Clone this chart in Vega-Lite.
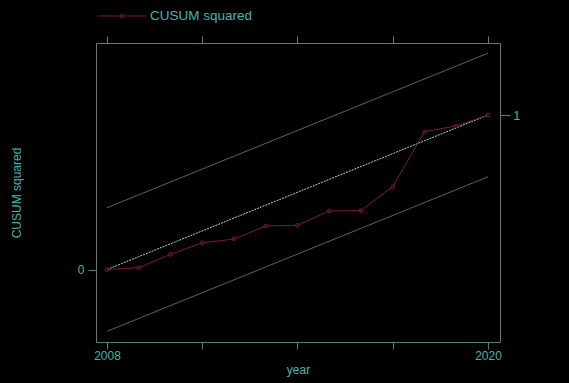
{
  "$schema": "https://vega.github.io/schema/vega-lite/v6.json",
  "width": 404,
  "height": 299,
  "autosize": {"type": "none"},
  "padding": {"left": 96, "top": 43, "right": 69, "bottom": 41},
  "background": "#000000",
  "config": {
    "view": {"stroke": "#587f7c", "strokeWidth": 1},
    "font": "Liberation Sans",
    "axis": {
      "grid": false,
      "domain": false,
      "tickColor": "#587f7c",
      "labelColor": "#3fb8ad",
      "titleColor": "#3fb8ad",
      "labelFont": "Liberation Sans",
      "titleFont": "Liberation Sans",
      "labelFontSize": 12,
      "titleFontSize": 12,
      "titleFontWeight": "normal"
    }
  },
  "datasets": {
    "bounds": [
      {"year": 2008, "value": 0.4, "series": "upper"},
      {"year": 2020, "value": 1.4, "series": "upper"},
      {"year": 2008, "value": -0.4, "series": "lower"},
      {"year": 2020, "value": 0.6, "series": "lower"}
    ],
    "expected": [
      {"year": 2008, "value": 0},
      {"year": 2020, "value": 1}
    ],
    "cusum": [
      {"year": 2008, "value": 0.0, "series": "CUSUM squared"},
      {"year": 2009, "value": 0.012, "series": "CUSUM squared"},
      {"year": 2010, "value": 0.098, "series": "CUSUM squared"},
      {"year": 2011, "value": 0.173, "series": "CUSUM squared"},
      {"year": 2012, "value": 0.197, "series": "CUSUM squared"},
      {"year": 2013, "value": 0.282, "series": "CUSUM squared"},
      {"year": 2014, "value": 0.286, "series": "CUSUM squared"},
      {"year": 2015, "value": 0.38, "series": "CUSUM squared"},
      {"year": 2016, "value": 0.381, "series": "CUSUM squared"},
      {"year": 2017, "value": 0.536, "series": "CUSUM squared"},
      {"year": 2018, "value": 0.892, "series": "CUSUM squared"},
      {"year": 2019, "value": 0.929, "series": "CUSUM squared"},
      {"year": 2020, "value": 1.0, "series": "CUSUM squared"}
    ]
  },
  "resolve": {"axis": {"x": "independent", "y": "independent"}},
  "layer": [
    {
      "data": {"name": "bounds"},
      "mark": {"type": "line", "color": "#4d6b60", "strokeWidth": 1},
      "encoding": {
        "x": {
          "field": "year", "type": "quantitative",
          "scale": {"domain": [2007.654, 2020.378], "nice": false, "zero": false},
          "axis": {
            "orient": "bottom",
            "values": [2008, 2011, 2014, 2017, 2020],
            "format": "d",
            "labelExpr": "datum.value == 2008 || datum.value == 2020 ? datum.label : ''",
            "tickSize": 7,
            "labelPadding": 1,
            "title": "year",
            "titlePadding": 3
          }
        },
        "y": {
          "field": "value", "type": "quantitative",
          "scale": {"domain": [-0.469, 1.466], "nice": false, "zero": false},
          "axis": {
            "orient": "left",
            "values": [0],
            "tickSize": 8,
            "labelPadding": 4,
            "title": "CUSUM squared",
            "titlePadding": 54
          }
        },
        "detail": {"field": "series"}
      }
    },
    {
      "data": {"name": "expected"},
      "mark": {"type": "line", "color": "#a6dcd8", "strokeWidth": 1, "strokeDash": [2, 1]},
      "encoding": {
        "x": {
          "field": "year", "type": "quantitative",
          "axis": {
            "orient": "top",
            "values": [2008, 2011, 2014, 2017, 2020],
            "labels": false,
            "tickSize": 7,
            "title": null
          }
        },
        "y": {
          "field": "value", "type": "quantitative",
          "axis": {
            "orient": "right",
            "values": [1],
            "tickSize": 10,
            "labelPadding": 3,
            "title": null
          }
        }
      }
    },
    {
      "data": {"name": "cusum"},
      "mark": {"type": "line", "strokeWidth": 1, "point": {"filled": false, "size": 14, "strokeWidth": 1}},
      "encoding": {
        "x": {"field": "year", "type": "quantitative", "axis": null},
        "y": {"field": "value", "type": "quantitative", "axis": null},
        "color": {
          "field": "series", "type": "nominal",
          "scale": {"domain": ["CUSUM squared"], "range": ["#7a1e28"]},
          "legend": {
            "title": null,
            "orient": "none",
            "legendX": 1,
            "legendY": -52,
            "symbolType": "M-1,0H1M0.08,0A0.08,0.08,0,1,1,-0.08,0A0.08,0.08,0,1,1,0.08,0",
            "symbolSize": 2401,
            "symbolStrokeWidth": 1,
            "symbolFillColor": "transparent",
            "labelColor": "#3fb8ad",
            "labelFont": "Liberation Sans",
            "labelFontSize": 13.5,
            "labelOffset": 3
          }
        }
      }
    }
  ]
}
